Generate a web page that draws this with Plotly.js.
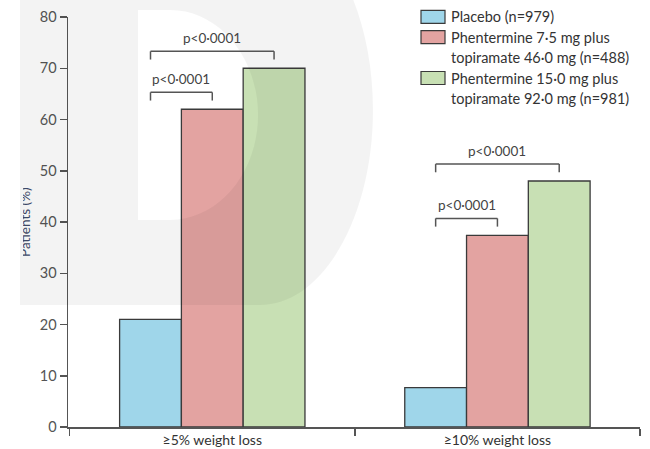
<!DOCTYPE html>
<html>
<head>
<meta charset="utf-8">
<script src="https://cdn.plot.ly/plotly-3.0.1.min.js"></script>
<style>
  html, body { margin: 0; padding: 0; background: #fff; }
  #wrap { position: relative; width: 650px; height: 449px; }
  #chart { width: 650px; height: 449px; }
  #cut { position: absolute; left: 0; top: 0; width: 20px; height: 449px; background: #fff; }
  #cut2 { position: absolute; left: 20px; top: 0; width: 3px; height: 305px; background: #f3f3f3; }
</style>
</head>
<body>
<div id="wrap"><div id="chart"></div><div id="cut"></div><div id="cut2"></div></div>
<script>
// ---- data ----
const categories = ['≥5% weight loss', '≥10% weight loss'];
const seriesNames = [
  'Placebo (n=979)',
  'Phentermine 7·5 mg plus\ntopiramate 46·0 mg (n=488)',
  'Phentermine 15·0 mg plus\ntopiramate 92·0 mg (n=981)'
];
const placebo = [21, 7.7];
const phen75top46 = [62, 37.4];
const phen15top92 = [70, 48];
const seriesColors = ['#9fd6ea', '#e3a3a1', '#c8e0b4'];
const yTitle = 'Patients (%)';
const pText = 'p<0·0001';
// comparisons: [category index, series a, series b]
const comparisons = [[0, 0, 1], [0, 0, 2], [1, 0, 1], [1, 0, 2]];

// ---- layout helpers ----
const W = 650, H = 449;
const M = {l: 68, r: 10, t: 17, b: 22};
const PW = W - M.l - M.r, PH = H - M.t - M.b;
const px2x = px => (px - M.l) / PW;
const py2y = py => (M.t + PH - py) / PH;
const P = (px, py) => px2x(px).toFixed(5) + ',' + py2y(py).toFixed(5);
const FONT = 'Lato, "Open Sans", sans-serif';

const seriesValues = [placebo, phen75top46, phen15top92];
const bargap = 0.35;
const barW = (1 - bargap) / seriesValues.length;
const offsetOf = s => (s - (seriesValues.length - 1) / 2) * barW;

const traces = seriesValues.map((vals, i) => ({
  type: 'bar',
  x: categories,
  y: vals,
  name: seriesNames[i].replace('\n', ' '),
  marker: {color: seriesColors[i], line: {color: '#3a3a3a', width: 1.3}},
  hoverinfo: 'skip',
  showlegend: false
}));

const shapes = [];
const annotations = [];

// watermark "D"
const k = 0.5523;
const outer = `M${P(20,-85)} L${P(260,-85)} C${P(260+113*k,-85)} ${P(373,110-195*k)} ${P(373,110)} ` +
  `C${P(373,110+195*k)} ${P(260+113*k,305)} ${P(260,305)} L${P(20,305)} Z`;
const inner = `M${P(138,10)} L${P(138,220)} L${P(170,220)} C${P(170+88*k,220)} ${P(258,115+105*k)} ${P(258,115)} ` +
  `C${P(258,115-105*k)} ${P(170+88*k,10)} ${P(170,10)} Z`;
shapes.push({type: 'path', xref: 'paper', yref: 'paper', path: outer + ' ' + inner,
  fillcolor: 'rgba(0,0,0,0.047)', line: {width: 0}, layer: 'above'});

// significance brackets
const tickDown = 1.6, gapAbove = 3.3;
comparisons.forEach(([c, a, b]) => {
  let top = 0;
  for (let s = a; s <= b; s++) top = Math.max(top, seriesValues[s][c]);
  const yb = top + gapAbove;
  const xa = c + offsetOf(a), xb = c + offsetOf(b);
  const line = {color: '#555', width: 1.5};
  shapes.push({type: 'line', xref: 'x', yref: 'y', x0: xa, x1: xb, y0: yb, y1: yb, line});
  shapes.push({type: 'line', xref: 'x', yref: 'y', x0: xa, x1: xa, y0: yb, y1: yb - tickDown, line});
  shapes.push({type: 'line', xref: 'x', yref: 'y', x0: xb, x1: xb, y0: yb, y1: yb - tickDown, line});
  annotations.push({xref: 'x', yref: 'y', x: (xa + xb) / 2, y: yb, yanchor: 'bottom', yshift: 3,
    showarrow: false, text: pText, font: {family: FONT, size: 13.5, color: '#444'}});
});

// custom legend
const legX = 421, legSw = 24, legSh = 13, lineStep = 20.4, firstLine = 16.8;
let lineIdx = 0;
seriesNames.forEach((name, i) => {
  const lines = name.split('\n');
  const cy = firstLine + lineStep * lineIdx;
  shapes.push({type: 'rect', xref: 'paper', yref: 'paper',
    x0: px2x(legX), x1: px2x(legX + legSw), y0: py2y(cy - legSh / 2), y1: py2y(cy + legSh / 2),
    fillcolor: seriesColors[i], line: {color: '#3a3a3a', width: 1.2}});
  lines.forEach(t => {
    annotations.push({xref: 'paper', yref: 'paper', x: px2x(449), y: py2y(firstLine + lineStep * lineIdx),
      xanchor: 'left', yanchor: 'middle', showarrow: false, text: t,
      font: {family: FONT, size: 14.5, color: '#333'}});
    lineIdx++;
  });
});

// y-axis title (cut at left edge as in the source)
annotations.push({xref: 'paper', yref: 'paper', x: px2x(35), y: py2y(222), xanchor: 'right', yanchor: 'middle',
  textangle: -90, showarrow: false, text: yTitle, font: {family: FONT, size: 13.5, color: '#3d4866'}});

const layout = {
  width: W, height: H,
  margin: M,
  paper_bgcolor: '#fff', plot_bgcolor: 'rgba(0,0,0,0)',
  bargap: bargap, barmode: 'group',
  showlegend: false,
  font: {family: FONT},
  xaxis: {
    type: 'category', range: [-0.506, 1.5], tickson: 'boundaries',
    showline: true, linecolor: '#555', linewidth: 1.5,
    ticks: 'outside', ticklen: 7, tickcolor: '#555', tickwidth: 1.5,
    showgrid: false, zeroline: false,
    tickfont: {family: FONT, size: 14, color: '#333'}
  },
  yaxis: {
    range: [0, 80], dtick: 10, tick0: 0,
    showline: true, linecolor: '#555', linewidth: 1.5,
    ticks: 'outside', ticklen: 7, tickcolor: '#555', tickwidth: 1.5,
    showgrid: false, zeroline: false,
    tickfont: {family: FONT, size: 14.5, color: '#555'}
  },
  shapes: shapes,
  annotations: annotations
};

Plotly.newPlot('chart', traces, layout, {staticPlot: true, displayModeBar: false});
</script>
</body>
</html>
